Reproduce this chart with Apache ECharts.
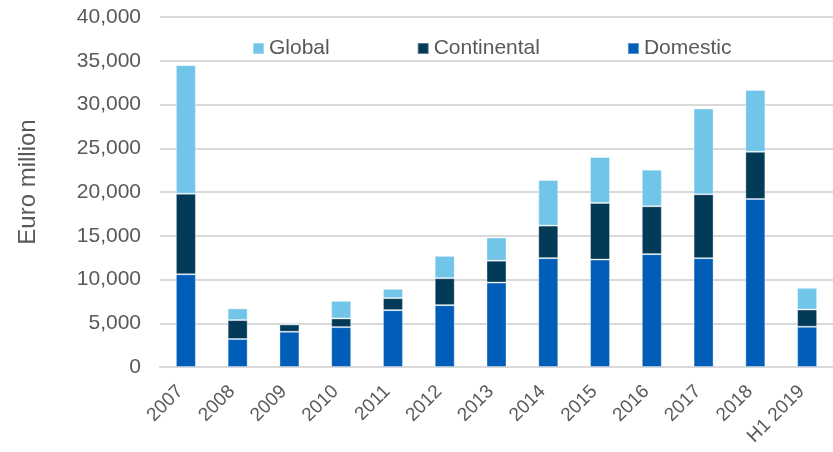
<!DOCTYPE html>
<html>
<head>
<meta charset="utf-8">
<script src="https://cdn.jsdelivr.net/npm/echarts@6/dist/echarts.min.js"></script>
<style>
  html, body { margin: 0; padding: 0; background: #fff; }
  #chart { width: 833px; height: 452px; }
</style>
</head>
<body>
<div id="chart"></div>
<script>
// deal volumes, EUR million
const categories = ['2007', '2008', '2009', '2010', '2011', '2012', '2013', '2014', '2015', '2016', '2017', '2018', 'H1 2019']
const domestic = [10600, 3200, 4030, 4560, 6500, 7070, 9650, 12440, 12280, 12900, 12440, 19200, 4600]
const continental = [9200, 2160, 830, 990, 1370, 3080, 2500, 3720, 6470, 5470, 7300, 5400, 1970]
const global = [14700, 1340, 160, 2010, 1060, 2550, 2650, 5210, 5250, 4180, 9810, 7070, 2480]

const FONT = 'Liberation Sans, Arial, sans-serif'
const TEXT = '#595959'
const GRID = '#d9d9d9'

const chart = echarts.init(document.getElementById('chart'), null, { renderer: 'canvas' })

const bar = (name, data, color) => ({
  name,
  type: 'bar',
  stack: 'total',
  data,
  barWidth: 20,
  itemStyle: { color, borderColor: 'rgba(255,255,255,0.35)', borderWidth: 1 },
  emphasis: { disabled: true },
})

chart.setOption({
  animation: false,
  textStyle: { fontFamily: FONT },
  grid: { left: 160, right: 0, top: 17, bottom: 85, containLabel: false },
  legend: {
    left: 247,
    top: 33,
    itemWidth: 11,
    itemHeight: 11,
    itemGap: 87,
    icon: 'rect',
    textStyle: { color: TEXT, fontSize: 21, fontFamily: FONT },
    data: ['Global', 'Continental', 'Domestic'],
  },
  xAxis: {
    type: 'category',
    data: categories,
    axisLine: { lineStyle: { color: GRID, width: 2 } },
    axisTick: { show: false },
    axisLabel: { color: TEXT, fontSize: 19, rotate: 45, margin: 16, interval: 0, padding: [0, 8, 0, 0] },
  },
  yAxis: {
    type: 'value',
    min: 0,
    max: 40000,
    interval: 5000,
    name: 'Euro million',
    nameLocation: 'middle',
    nameGap: 120,
    nameTextStyle: { color: TEXT, fontSize: 24, padding: [0, 0, 0, 20] },
    axisLine: { show: false },
    axisTick: { show: false },
    splitLine: { lineStyle: { color: GRID, width: 2 } },
    axisLabel: {
      color: TEXT,
      fontSize: 21,
      margin: 19,
      formatter: (v) => v.toLocaleString('en-US'),
    },
  },
  series: [
    bar('Domestic', domestic, '#005EB8'),
    bar('Continental', continental, '#033A58'),
    bar('Global', global, '#71C5E8'),
  ],
})
</script>
</body>
</html>
